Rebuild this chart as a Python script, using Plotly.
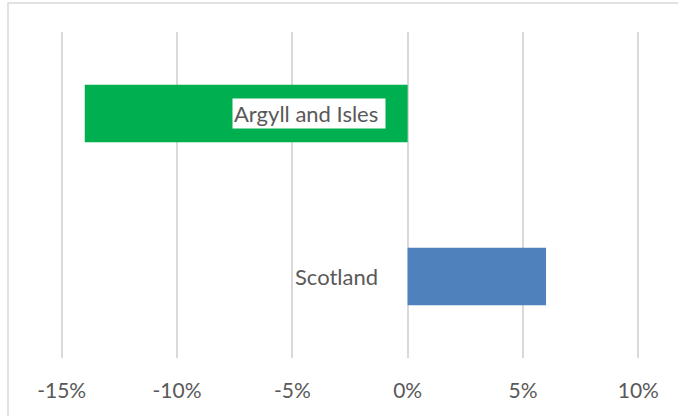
import plotly.graph_objects as go

# Population change by area, percent
regions = ["Argyll and Isles", "Scotland"]
change_pct = [-14, 6]
bar_colors = ["#00b050", "#4f81bd"]

x_ticks = [-15, -10, -5, 0, 5, 10]
x_tick_labels = ["-15%", "-10%", "-5%", "0%", "5%", "10%"]
x_range = [-15.117, 10.117]

W, H = 678, 416
M = dict(l=59, r=37, t=32, b=58)
PW = W - M["l"] - M["r"]
PH = H - M["t"] - M["b"]

TEXT = "#595959"
GRID = "#d9d9d9"
FONT = "Lato"

fig = go.Figure(
    go.Bar(
        y=regions,
        x=change_pct,
        orientation="h",
        width=0.354,
        marker=dict(color=bar_colors, line_width=0),
        hoverinfo="skip",
    )
)

# category names sit just left of the zero line, boxed in white
for name in regions:
    fig.add_annotation(
        x=0, y=name, xref="x", yref="y",
        text=name + "\u00a0",
        showarrow=False,
        xanchor="right", yanchor="middle",
        xshift=-22,
        bgcolor="white",
        borderpad=1,
        font=dict(family=FONT, size=22, color=TEXT),
    )

# light chart-area frame
def px_to_paper_x(px):
    return (px - M["l"]) / PW

def px_to_paper_y(py):
    return (H - M["b"] - py) / PH

fig.add_shape(
    type="rect", xref="paper", yref="paper",
    x0=px_to_paper_x(8), x1=px_to_paper_x(W + 10),
    y0=px_to_paper_y(H + 10), y1=px_to_paper_y(3),
    line=dict(color=GRID, width=1.5),
    fillcolor="rgba(0,0,0,0)",
    layer="below",
)

fig.update_layout(
    width=W, height=H,
    margin=dict(l=M["l"], r=M["r"], t=M["t"], b=M["b"], pad=0),
    paper_bgcolor="white",
    plot_bgcolor="white",
    showlegend=False,
    font=dict(family=FONT, color=TEXT),
    xaxis=dict(
        range=x_range,
        tickvals=x_ticks,
        ticktext=x_tick_labels,
        showgrid=True,
        gridcolor=GRID,
        gridwidth=1.5,
        zeroline=False,
        showline=False,
        ticks="",
        ticklabelstandoff=18,
        tickfont=dict(family=FONT, size=21, color=TEXT),
        fixedrange=True,
    ),
    yaxis=dict(
        categoryorder="array",
        categoryarray=regions[::-1],
        range=[-0.5, 1.5],
        showticklabels=False,
        showgrid=False,
        zeroline=False,
        showline=False,
        ticks="",
        fixedrange=True,
    ),
)

fig.write_html("out.html")
